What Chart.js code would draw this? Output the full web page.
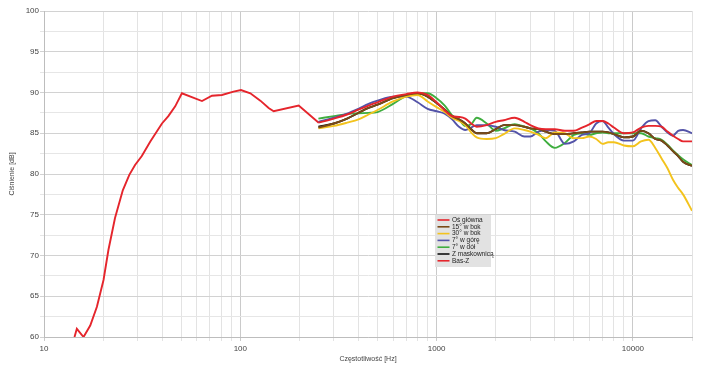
<!DOCTYPE html>
<html><head><meta charset="utf-8">
<script src="https://cdn.jsdelivr.net/npm/chart.js@4.4.1/dist/chart.umd.min.js"></script>
<style>html,body{margin:0;padding:0;background:#fff;}#wrap{width:705px;height:371px;}</style>
</head><body><div id="wrap"><canvas id="c" width="705" height="371"></canvas></div>
<script>
const seriesLabels = ['Oś główna','15° w bok','30° w bok','7° w górę','7° w dół','Z maskownicą','Bas-Z'];
const seriesColors = ['#e5252c','#7a4a16','#f3c31d','#5353a8','#3fae3f','#111111','#e5252c'];

const basHz = [14.3,14.7,15.9,17.2,18.6,20.1,21.3,23.0,25.2,27.2,29.1,31.5,34.8,39.9,43.0,46.6,50.4,63.8,71.7,80.6,92.4,100.8,112.5,126.5,139.4,147.9,198.4,250.8];
const basDb = [60.0,61.0,60.0,61.4,63.7,67.0,70.7,74.6,78.0,79.9,81.1,82.2,84.0,86.2,87.1,88.3,89.9,88.95,89.6,89.7,90.1,90.3,89.9,89.0,88.1,87.7,88.4,86.3];

const hfHz = [250,300,350,400,450,500,600,700,800,900,1000,1100,1200,1300,1400,1500,1600,1800,2000,2200,2500,2800,3000,3300,3600,4000,4500,5000,5500,6000,6500,7000,7500,8000,9000,10000,11000,12000,13000,14000,15000,16000,17000,18000,20000];
const osGlownaDb = [86.3,86.8,87.3,87.9,88.4,88.8,89.5,89.8,90.0,89.7,88.8,87.8,87.1,87.0,86.8,86.2,85.8,86.0,86.4,86.6,86.9,86.4,86.0,85.6,85.5,85.5,85.3,85.3,85.7,86.1,86.5,86.5,86.2,85.7,85.0,85.1,85.7,85.9,85.9,85.8,85.2,84.7,84.3,84.0,84.0];
const bok15Db = [85.7,86.2,86.8,87.5,88.1,88.5,89.3,89.7,89.9,89.5,88.7,87.9,87.1,86.7,86.2,85.5,85.0,85.0,85.5,86.0,86.0,85.8,85.6,85.5,85.2,84.9,84.9,85.0,85.1,85.2,85.2,85.2,85.1,84.9,84.5,84.6,85.3,85.0,84.3,84.1,83.5,82.8,82.2,81.5,81.0];
const bok30Db = [85.6,85.9,86.3,86.7,87.3,87.85,88.9,89.5,89.7,88.9,88.2,87.6,86.9,86.5,86.0,85.1,84.5,84.3,84.4,84.9,85.6,85.4,85.2,84.8,84.4,85.1,85.0,84.4,84.4,84.6,84.3,83.7,83.9,83.9,83.5,83.4,84.0,84.2,83.2,81.9,80.7,79.3,78.3,77.5,75.5];
const gora7Db = [86.4,86.9,87.4,88.0,88.6,89.0,89.5,89.5,88.8,88.0,87.7,87.4,86.7,85.8,85.4,85.7,86.0,86.0,85.8,85.4,85.2,84.6,84.6,85.2,85.4,85.3,83.7,84.0,84.8,85.0,86.2,86.5,85.7,84.9,84.1,84.1,85.6,86.5,86.6,85.8,85.1,84.7,85.3,85.4,85.0];
const dol7Db = [86.8,87.1,87.35,87.45,87.5,87.6,88.6,89.6,89.9,89.9,89.3,88.4,87.2,86.7,85.9,86.1,86.9,86.2,85.3,85.6,86.1,85.8,85.6,85.0,84.0,83.2,83.8,84.8,85.0,84.8,85.0,85.1,85.0,85.0,85.0,85.0,85.0,84.6,84.4,84.2,83.6,82.9,82.3,81.8,81.1];
const maskownicaDb = [85.8,86.2,86.8,87.5,88.1,88.5,89.3,89.7,89.9,89.5,88.7,87.9,87.1,86.7,86.2,85.5,85.0,85.0,85.5,86.0,86.0,85.8,85.6,85.5,85.2,84.9,84.9,85.0,85.1,85.2,85.2,85.2,85.1,84.9,84.5,84.6,85.3,85.0,84.3,84.1,83.5,82.8,82.2,81.5,81.0];

const xGridHz = [10,20,30,40,50,60,70,80,90,100,200,300,400,500,600,700,800,900,1000,2000,3000,4000,5000,6000,7000,8000,9000,10000,20000];
const xLabelHz = [10,100,1000,10000];
const yLabelDb = [60,65,70,75,80,85,90,95,100];

function pts(xs, ys){ return xs.map((x,i)=>({x:x, y:ys[i]})); }

const hfSeries = [osGlownaDb,bok15Db,bok30Db,gora7Db,dol7Db,maskownicaDb];
const datasets = hfSeries.map((arr,i)=>({
  label: seriesLabels[i], data: pts(hfHz, arr), borderColor: seriesColors[i], backgroundColor: seriesColors[i],
  showLine: true, pointRadius: 0, borderWidth: 1.9, cubicInterpolationMode: 'monotone', fill: false
}));
datasets.push({label: seriesLabels[6], data: pts(basHz, basDb), borderColor: seriesColors[6], backgroundColor: seriesColors[6],
  showLine: true, pointRadius: 0, borderWidth: 1.9, tension: 0, fill: false});

const FONT = 'Liberation Sans';

const boxLegend = {
  id: 'boxLegend',
  afterDraw(chart){
    const ctx = chart.ctx;
    const x0 = 435, y0 = 215, w = 56, h = 52;
    ctx.save();
    ctx.fillStyle = '#e2e2e2';
    ctx.fillRect(x0, y0, w, h);
    chart.data.datasets.forEach((ds, i) => {
      const y = y0 + 5 + i * 6.8;
      ctx.strokeStyle = ds.borderColor; ctx.lineWidth = 1.6;
      ctx.beginPath(); ctx.moveTo(x0 + 2.5, y); ctx.lineTo(x0 + 14.5, y); ctx.stroke();
      ctx.fillStyle = '#222'; ctx.font = '6.5px "' + FONT + '"'; ctx.textBaseline = 'middle'; ctx.textAlign = 'left';
      ctx.fillText(ds.label, x0 + 17, y);
    });
    ctx.restore();
  }
};

new Chart(document.getElementById('c'), {
  type: 'scatter',
  data: { datasets },
  options: {
    responsive: false, animation: false, devicePixelRatio: 1,
    layout: { padding: { top: 11, right: 13, left: 0, bottom: 0 } },
    plugins: { legend: { display: false }, tooltip: { enabled: false } },
    scales: {
      x: {
        type: 'logarithmic', min: 10, max: 20000,
        afterBuildTicks: s => { s.ticks = xGridHz.map(v => ({ value: v })); },
        afterFit: s => { s.height = 34; },
        ticks: { autoSkip: false, maxRotation: 0, padding: 3, color: '#444', font: { family: FONT, size: 8 },
          callback: v => xLabelHz.includes(v) ? String(v) : '' },
        grid: { color: c => xLabelHz.includes(c.tick && c.tick.value) ? '#cacaca' : '#e3e3e3', tickLength: 4 },
        border: { color: '#bdbdbd' },
        title: { display: true, text: 'Częstotliwość [Hz]', color: '#444', font: { family: FONT, size: 7 }, padding: { top: 0, bottom: 8 } }
      },
      y: {
        min: 60, max: 100,
        afterFit: s => { s.width = 44; },
        ticks: { stepSize: 2.5, padding: 1, color: '#444', font: { family: FONT, size: 8 },
          callback: v => yLabelDb.includes(v) ? String(v) : '' },
        grid: { color: c => yLabelDb.includes(c.tick && c.tick.value) ? '#d2d2d2' : '#e6e6e6', tickLength: 4 },
        border: { color: '#bdbdbd' },
        title: { display: true, text: 'Ciśnienie [dB]', color: '#444', font: { family: FONT, size: 7 }, padding: { top: 8, bottom: 0 } }
      }
    }
  },
  plugins: [boxLegend]
});
</script>
</body></html>
